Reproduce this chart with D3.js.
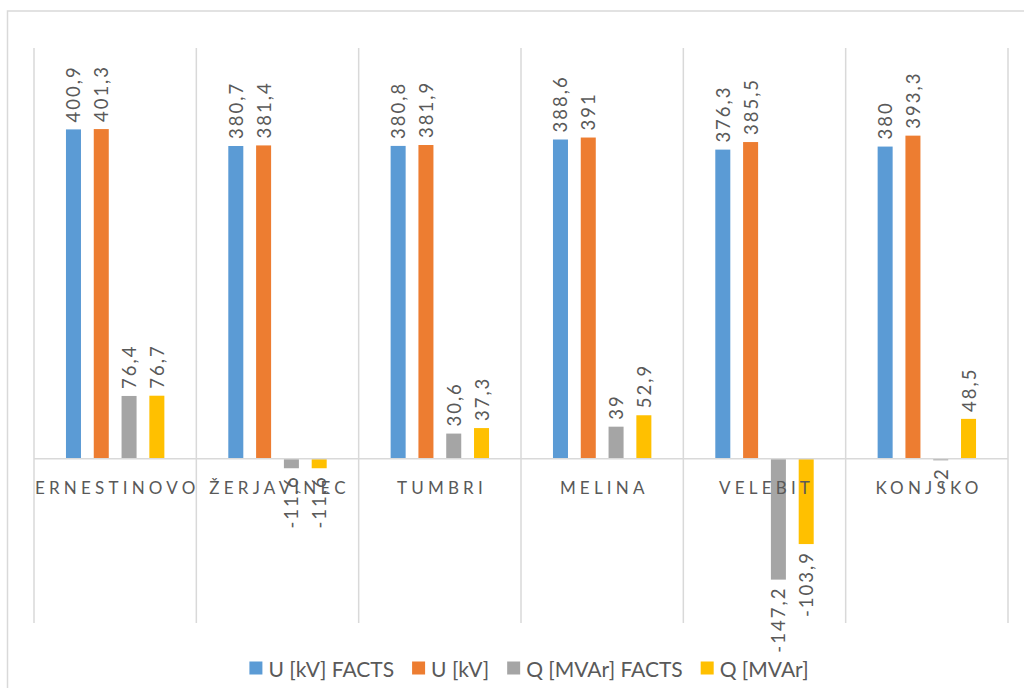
<!DOCTYPE html>
<html>
<head>
<meta charset="utf-8">
<script src="https://cdn.jsdelivr.net/npm/d3@7"></script>
<style>
  html, body { margin: 0; padding: 0; background: #fff; }
  svg { display: block; font-family: Lato, "Open Sans", sans-serif; }
</style>
</head>
<body>
<svg id="chart" width="1024" height="688"></svg>
<script>
// Substations and measured values per series
const categories = ["ERNESTINOVO", "ŽERJAVINEC", "TUMBRI", "MELINA", "VELEBIT", "KONJSKO"];
const seriesNames = ["U [kV] FACTS", "U [kV]", "Q [MVAr] FACTS", "Q [MVAr]"];
const uFacts = [400.9, 380.7, 380.8, 388.6, 376.3, 380];
const u = [401.3, 381.4, 381.9, 391, 385.5, 393.3];
const qFacts = [76.4, -11.6, 30.6, 39, -147.2, -2];
const q = [76.7, -11.6, 37.3, 52.9, -103.9, 48.5];
const seriesColors = ["#5B9BD5", "#ED7D31", "#A5A5A5", "#FFC000"];
const yDomain = [-200, 500];

const seriesValues = [uFacts, u, qFacts, q];
const rows = categories.map((c, i) => ({
  cat: c,
  vals: seriesNames.map((s, j) => ({ key: s, value: seriesValues[j][i], color: seriesColors[j] }))
}));

const svg = d3.select("#chart");
const plot = { left: 34, right: 1008, top: 48, bottom: 623 };

// chart area frame
svg.append("rect")
  .attr("x", 7.5).attr("y", 11)
  .attr("width", 1100).attr("height", 800)
  .attr("fill", "none").attr("stroke", "#d9d9d9").attr("stroke-width", 1.5);

const x0 = d3.scaleBand().domain(categories).range([plot.left, plot.right]).paddingInner(0).paddingOuter(0);
const x1 = d3.scaleBand().domain(seriesNames).range([0, x0.bandwidth()]).paddingInner(0.46).paddingOuter(1.15);
const y = d3.scaleLinear().domain(yDomain).range([plot.bottom, plot.top]);

// category divider lines
const edges = categories.map(c => x0(c)).concat([plot.right]);
svg.append("g").selectAll("line").data(edges).join("line")
  .attr("x1", d => d).attr("x2", d => d)
  .attr("y1", plot.top).attr("y2", plot.bottom)
  .attr("stroke", "#d9d9d9").attr("stroke-width", 1.5);

// bars
const groups = svg.append("g").selectAll("g").data(rows).join("g")
  .attr("transform", d => `translate(${x0(d.cat)},0)`);

groups.selectAll("rect").data(d => d.vals).join("rect")
  .attr("x", d => x1(d.key))
  .attr("width", x1.bandwidth())
  .attr("y", d => y(Math.max(0, d.value)))
  .attr("height", d => Math.abs(y(d.value) - y(0)))
  .attr("fill", d => d.color);

// zero axis line
svg.append("line")
  .attr("x1", plot.left).attr("x2", plot.right)
  .attr("y1", y(0)).attr("y2", y(0))
  .attr("stroke", "#d9d9d9").attr("stroke-width", 1.5);

// category labels (letter-spaced, centred under each group)
const catSpacing = 4.2;
svg.append("g").selectAll("text").data(categories).join("text")
  .attr("x", d => x0(d) + x0.bandwidth() / 2 + catSpacing / 2)
  .attr("y", 494)
  .attr("text-anchor", "middle")
  .attr("fill", "#595959")
  .attr("font-size", 17)
  .attr("letter-spacing", catSpacing)
  .text(d => d);

// value labels, rotated
const fmt = v => String(v).replace(".", ",");
groups.selectAll("text.val").data(d => d.vals).join("text")
  .attr("class", "val")
  .attr("transform", d => {
    const cx = x1(d.key) + x1.bandwidth() / 2;
    const cy = d.value >= 0 ? y(d.value) - 7 : y(d.value) + 7;
    return `translate(${cx},${cy}) rotate(-90)`;
  })
  .attr("text-anchor", d => d.value >= 0 ? "start" : "end")
  .attr("dominant-baseline", "central")
  .attr("fill", "#595959")
  .attr("font-size", 18.5)
  .attr("letter-spacing", 2)
  .text(d => fmt(d.value));

// legend
const legend = svg.append("g").attr("font-size", 21).attr("fill", "#595959");
const items = legend.selectAll("g").data(seriesNames).join("g");
items.append("rect").attr("width", 13).attr("height", 13).attr("y", -6.5)
  .attr("fill", (d, i) => seriesColors[i]);
items.append("text").attr("x", 19).attr("dominant-baseline", "central").text(d => d);
const widths = [];
items.each(function () { widths.push(this.getBBox().width); });
const gap = 18;
const total = d3.sum(widths) + gap * (widths.length - 1);
let cx = 529 - total / 2;
items.attr("transform", (d, i) => {
  const t = `translate(${cx},668)`;
  cx += widths[i] + gap;
  return t;
});
</script>
</body>
</html>
